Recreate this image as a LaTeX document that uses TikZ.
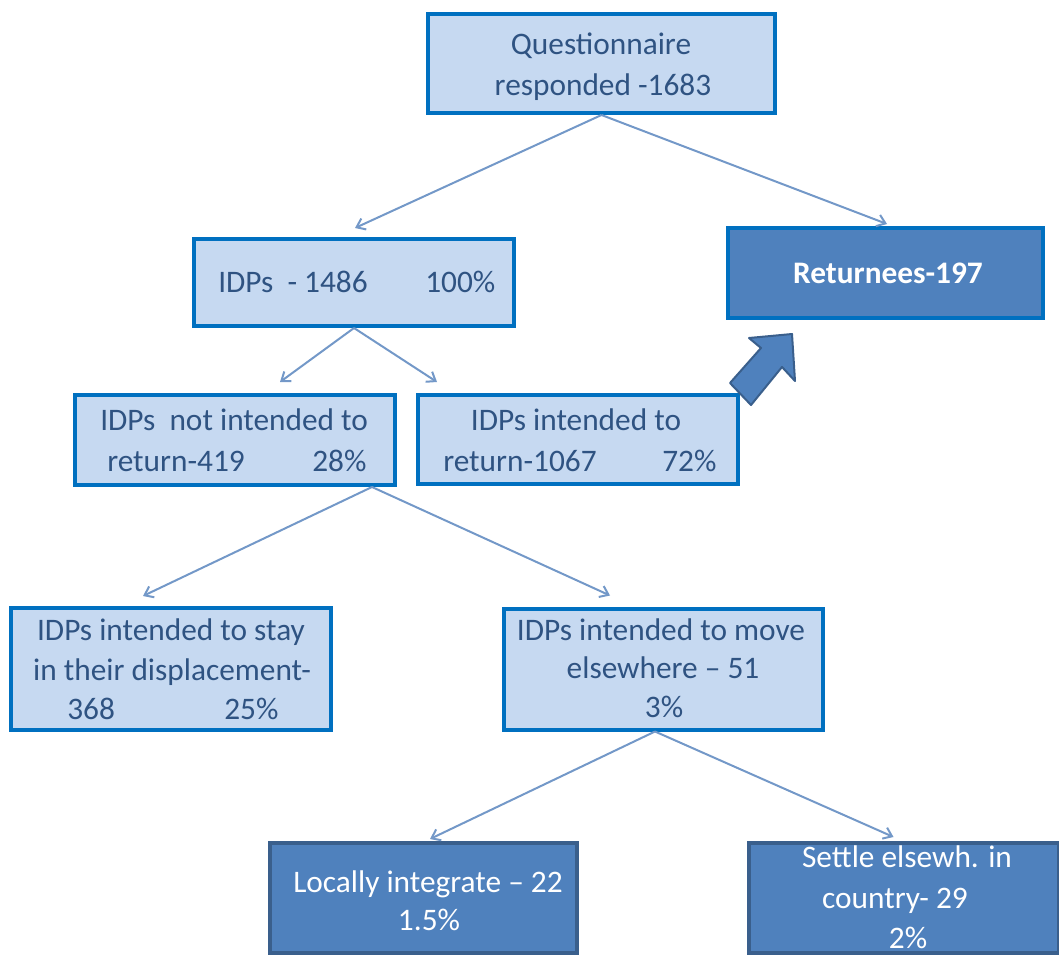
\documentclass[tikz,border=0pt]{standalone}
\usepackage{fontspec}
\setmainfont{Carlito}
\usetikzlibrary{calc,arrows.meta}
\definecolor{lightfill}{HTML}{C6D9F1}
\definecolor{lightborder}{HTML}{0070C0}
\definecolor{darkfill}{HTML}{4F81BD}
\definecolor{darkborder}{HTML}{3A5F8C}
\definecolor{txtblue}{HTML}{2F5382}
\definecolor{connc}{HTML}{7398C8}
\begin{document}
\begin{tikzpicture}[x=0.75pt,y=-0.75pt,
  lbox/.style={draw=lightborder,fill=lightfill,line width=3pt,inner sep=0pt},
  dbox/.style={draw=darkborder,fill=darkfill,line width=3pt,inner sep=0pt},
  rbox/.style={draw=lightborder,fill=darkfill,line width=3pt,inner sep=0pt},
  lt/.style={text=txtblue,font=\fontsize{23.5}{30}\selectfont,inner sep=0pt},
  dt/.style={text=white,font=\fontsize{23.5}{30}\selectfont,inner sep=0pt},
  conn/.style={draw=connc,line width=1.5pt,-{Straight Barb[length=6pt,width=9pt]}}]
\useasboundingbox (0,0) rectangle (1059,956);
% boxes
\node[lbox,minimum width=260.25pt,minimum height=74.25pt] (b1) at (601.5,63.5) {};
\node[lbox,minimum width=240pt,minimum height=65.25pt] (b2) at (354,282.5) {};
\node[rbox,minimum width=236.25pt,minimum height=67.5pt] (b3) at (885.5,273) {};
\node[lbox,minimum width=240pt,minimum height=67.5pt] (b4) at (235,440) {};
\node[lbox,minimum width=240pt,minimum height=66.75pt] (b5) at (578,439.5) {};
\node[lbox,minimum width=240pt,minimum height=91.5pt] (b6) at (171,669) {};
\node[lbox,minimum width=239.25pt,minimum height=90.75pt] (b7) at (663.5,669) {};
\node[dbox,minimum width=230.25pt,minimum height=82.5pt] (b8) at (423,898) {};
\node[dbox,minimum width=232.5pt,minimum height=82.5pt] (b9) at (903.5,898) {};
% texts
\node[lt,anchor=base] (t1a) at (601,55) {Questionnaire};
\node[lt,anchor=base] (t1b) at (603,95) {responded -1683};
\node[lt,anchor=base west] (t2a) at (218,292) {IDPs\ \ - 1486};
\node[lt,anchor=base west] (t2b) at (425,292) {100\%};
\node[dt,anchor=base,font=\fontsize{23.5}{30}\selectfont\bfseries] (t3) at (888,283) {Returnees-197};
\node[lt,anchor=base west] (t4a) at (100,430) {IDPs\ \ not intended to};
\node[lt,anchor=base west] (t4b) at (107,471) {return-419};
\node[lt,anchor=base west] (t4c) at (312,471) {28\%};
\node[lt,anchor=base] (t5a) at (576,430) {IDPs intended to};
\node[lt,anchor=base west] (t5b) at (443,471) {return-1067};
\node[lt,anchor=base west] (t5c) at (662,471) {72\%};
\node[lt,anchor=base] (t6a) at (171,640) {IDPs intended to stay};
\node[lt,anchor=base] (t6b) at (172,680) {in their displacement-};
\node[lt,anchor=base west] (t6c) at (67,719) {368};
\node[lt,anchor=base west] (t6d) at (224,719) {25\%};
\node[lt,anchor=base] (t7a) at (661,640) {IDPs intended to move};
\node[lt,anchor=base] (t7b) at (663,678) {elsewhere – 51};
\node[lt,anchor=base] (t7c) at (664,717) {3\%};
\node[dt,anchor=base] (t8a) at (428,892) {Locally integrate – 22};
\node[dt,anchor=base] (t8b) at (429,930) {1.5\%};
\node[dt,anchor=base] (t9a) at (907,867) {Settle elsewh. in};
\node[dt,anchor=base] (t9b) at (895,908) {country- 29};
\node[dt,anchor=base] (t9c) at (908,948) {2\%};
% connectors
\draw[conn] (b1.south) -- ($(b2.north)+(1,-9)$);
\draw[conn] (b1.south) -- ($(b3.north)+(1.5,-2)$);
\draw[conn] (b2.south) -- ($(b4.north)+(45,-11)$);
\draw[conn] (b2.south) -- ($(b5.north)+(-141,-11)$);
\draw[conn] ($(b4.south)+(137,0)$) -- ($(b6.north)+(-28,-10)$);
\draw[conn] ($(b4.south)+(137,0)$) -- ($(b7.north)+(-53.5,-11)$);
\draw[conn] ($(b7.south)+(-8.5,0)$) -- ($(b8.north)+(7,-2)$);
\draw[conn] ($(b7.south)+(-8.5,0)$) -- ($(b9.north)+(-10,-4)$);
% block arrow
\draw[fill=darkfill,draw=darkborder,line width=1.5pt,line join=round]
  (792,334) -- (749,338) -- (761,348) -- (730,383) -- (751,405) -- (782,367) -- (795,381) -- cycle;
\end{tikzpicture}
\end{document}
